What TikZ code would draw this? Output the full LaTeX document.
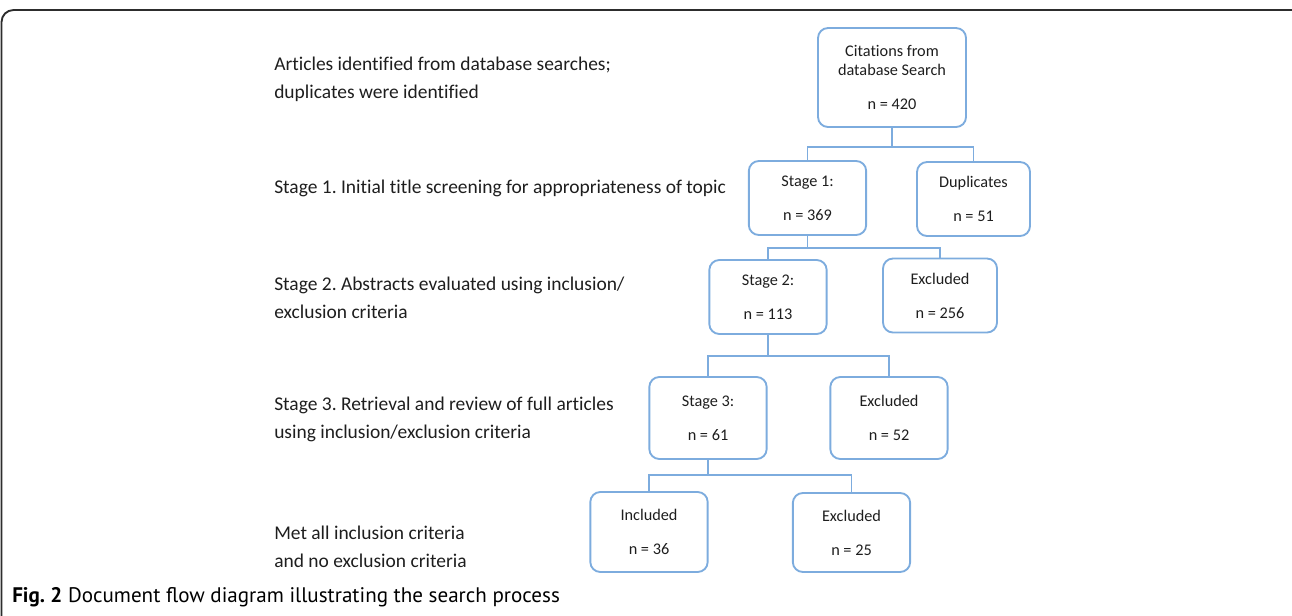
\documentclass[tikz,border=0pt]{standalone}
\usepackage{fontspec}
\setmainfont[Ligatures=CommonOff]{Carlito}
\newfontfamily\capfont{PT Sans}
\usepackage{tikz}
\usetikzlibrary{positioning}
\usepackage{xcolor}
\definecolor{boxblue}{RGB}{125,172,222}
\definecolor{inkgrey}{RGB}{30,30,30}
\definecolor{framegrey}{RGB}{45,45,45}
\frenchspacing

\begin{document}
\begin{tikzpicture}[x=0.75pt, y=-0.75pt,
    box/.style={draw=boxblue, line width=1.4pt, rounded corners=7.5pt,
      align=center, minimum width=88pt, minimum height=55.5pt, inner sep=2pt,
      font=\fontsize{12.2}{14}\selectfont, text=inkgrey},
    link/.style={draw=boxblue, line width=1.15pt},
    stagetext/.style={anchor=west, align=left, inner sep=0pt,
      font=\fontsize{14.6}{21}\selectfont, text=inkgrey}]
        \useasboundingbox (0,0) rectangle (1292,615);

        % Figure frame
        \draw[framegrey, line width=1.4pt, rounded corners=9pt]
          (1.5,620) -- (1.5,10) -- (1304,10) -- (1304,620);

        % Stage descriptions (left column)
        \node[stagetext] (lblsearch) at (274,79)
          {Articles identified from database searches;\\duplicates were identified};
        \node[stagetext] (lblone) at (274,188)
          {Stage 1. Initial title screening for appropriateness of topic};
        \node[stagetext] (lbltwo) at (274,297.5)
          {Stage 2. Abstracts evaluated using inclusion/\\exclusion criteria};
        \node[stagetext] (lblthree) at (274,419)
          {Stage 3. Retrieval and review of full articles\\using inclusion/exclusion criteria};
        \node[stagetext] (lblmet) at (274,547)
          {Met all inclusion criteria\\and no exclusion criteria};

        % Flow boxes
        \node[box, minimum width=111pt, minimum height=74.25pt] (cit) at (892,77.5)
          {Citations from\\database Search\\[11.5pt]n = 420};
        \node[box] (st1) at (807.5,198) {Stage 1:\\[11.5pt]n = 369};
        \node[box, minimum width=84.75pt] (dup) at (973.5,199) {Duplicates\\[11.5pt]n = 51};
        \node[box] (st2) at (768,297) {Stage 2:\\[11.5pt]n = 113};
        \node[box, minimum width=85.5pt] (exa) at (940,295.5) {Excluded\\[11.5pt]n = 256};
        \node[box, minimum height=61.5pt] (st3) at (708,418) {Stage 3:\\[11.5pt]n = 61};
        \node[box, minimum height=61.5pt] (exb) at (889,418) {Excluded\\[11.5pt]n = 52};
        \node[box, minimum height=60pt] (inc) at (649,532) {Included\\[11.5pt]n = 36};
        \node[box, minimum height=59.25pt] (exc) at (851.5,532.5) {Excluded\\[11.5pt]n = 25};

        % Connectors
        \draw[link] (cit.south) -- ++(0,19) coordinate (splitcit);
        \draw[link] (splitcit) -| (st1.north);
        \draw[link] (splitcit) -| (dup.north);

        \draw[link] (st1.south) -- ++(0,12) coordinate (splitone);
        \draw[link] (splitone) -| (st2.north);
        \draw[link] (splitone) -| (exa.north);

        \draw[link] (st2.south) -- ++(0,21) coordinate (splittwo);
        \draw[link] (splittwo) -| (st3.north);
        \draw[link] (splittwo) -| (exb.north);

        \draw[link] (st3.south) -- ++(0,15) coordinate (splitthree);
        \draw[link] (splitthree) -| (inc.north);
        \draw[link] (splitthree) -| (exc.north);

        % Caption
        \node[anchor=west, inner sep=0pt, text=black, font=\capfont\fontsize{15.8}{18}\selectfont]
          (caption) at (12,597)
          {\textbf{Fig. 2} Document flow diagram illustrating the search process};
      \end{tikzpicture}
\end{document}
